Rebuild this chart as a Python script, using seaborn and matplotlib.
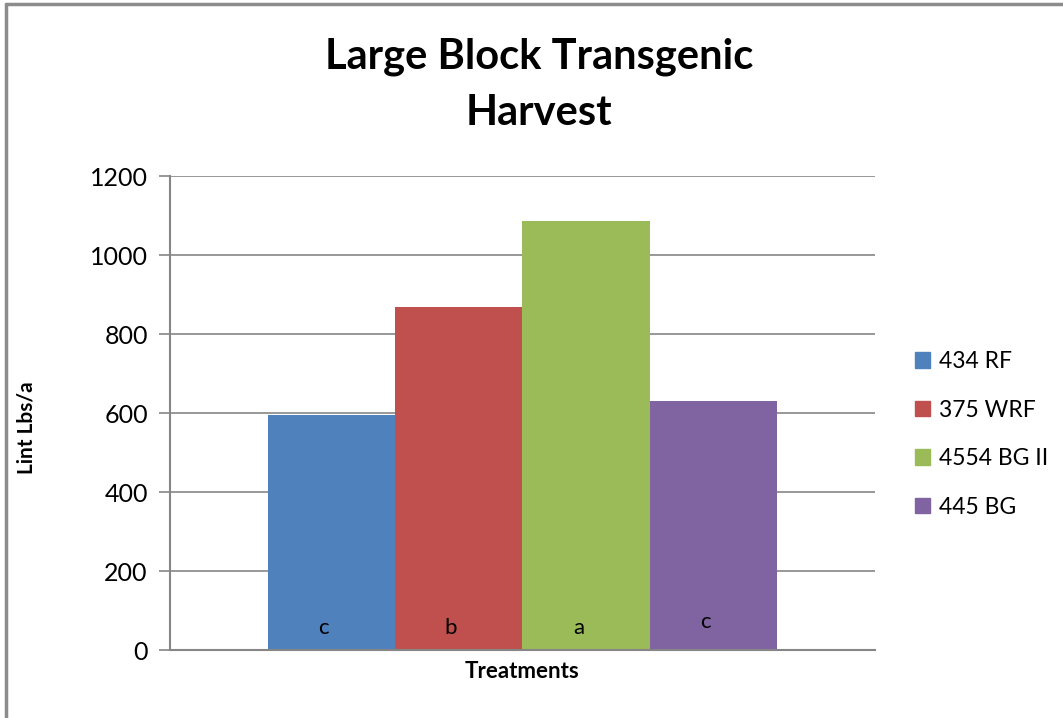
import pandas as pd
import seaborn as sns
import matplotlib.pyplot as plt
from matplotlib.lines import Line2D

# data
treatments = ['434 RF', '375 WRF', '4554 BG II', '445 BG']
lint_yield = [596, 868, 1086, 630]
letters = ['c', 'b', 'a', 'c']
letter_y = [55, 55, 55, 70]
colors = ['#4F81BD', '#C0504D', '#9BBB59', '#8064A2']

df = pd.DataFrame({'group': ['Treatments'] * 4, 'variety': treatments, 'lint': lint_yield})

sns.set_style('white')
plt.rcParams['font.family'] = ['Lato', 'DejaVu Sans']
plt.rcParams['text.color'] = 'black'
plt.rcParams['axes.labelcolor'] = 'black'
plt.rcParams['ytick.labelcolor'] = 'black'

fig = plt.figure(figsize=(10.63, 7.18), dpi=100)
ax = fig.add_axes([0.16, 0.0947, 0.663, 0.66])

sns.barplot(data=df, x='group', y='lint', hue='variety', palette=colors,
            width=0.722, saturation=1, legend=False, ax=ax, edgecolor='none')

ax.set_ylim(0, 1200)
ax.set_yticks(range(0, 1201, 200))
ax.set_xlim(-0.5, 0.5)
ax.set_xticks([])
ax.grid(axis='y', color='#868686', linewidth=1.2)
ax.set_axisbelow(True)
for s in ['top', 'right']:
    ax.spines[s].set_visible(False)
for s in ['left', 'bottom']:
    ax.spines[s].set_color('#868686')
    ax.spines[s].set_linewidth(1.5)
ax.tick_params(axis='y', left=True, length=8, width=1.2, color='#868686', labelsize=18, pad=8)
ax.set_xlabel('Treatments', fontsize=16, fontweight='bold', labelpad=8)
ax.set_ylabel('Lint Lbs/a', fontsize=15, fontweight='bold', labelpad=33)
ax.yaxis.set_label_coords(-0.19, 0.47)

# significance letters inside the bars
for patch, let, ly in zip(ax.patches, letters, letter_y):
    ax.text(patch.get_x() + patch.get_width() / 2 - 0.011, ly, let, ha='center', va='center', fontsize=16)

fig.suptitle('Large Block Transgenic\nHarvest', x=0.507, y=0.948, fontsize=30,
             fontweight='bold', linespacing=1.6)

handles = [plt.Rectangle((0, 0), 1, 1, color=c) for c in colors]
fig.legend(handles, treatments, loc='center left', bbox_to_anchor=(0.8415, 0.395),
           frameon=False, fontsize=16.5, handlelength=0.65, handleheight=0.65,
           handletextpad=0.4, labelspacing=1.2)

# chart border (top and left edges visible)
fig.add_artist(Line2D([0.0055, 0.0055], [0, 0.994], transform=fig.transFigure, color='#8c8c8c', linewidth=2.5))
fig.add_artist(Line2D([0.0055, 1], [0.994, 0.994], transform=fig.transFigure, color='#8c8c8c', linewidth=2.5))

fig.savefig('out.png', dpi=100)
